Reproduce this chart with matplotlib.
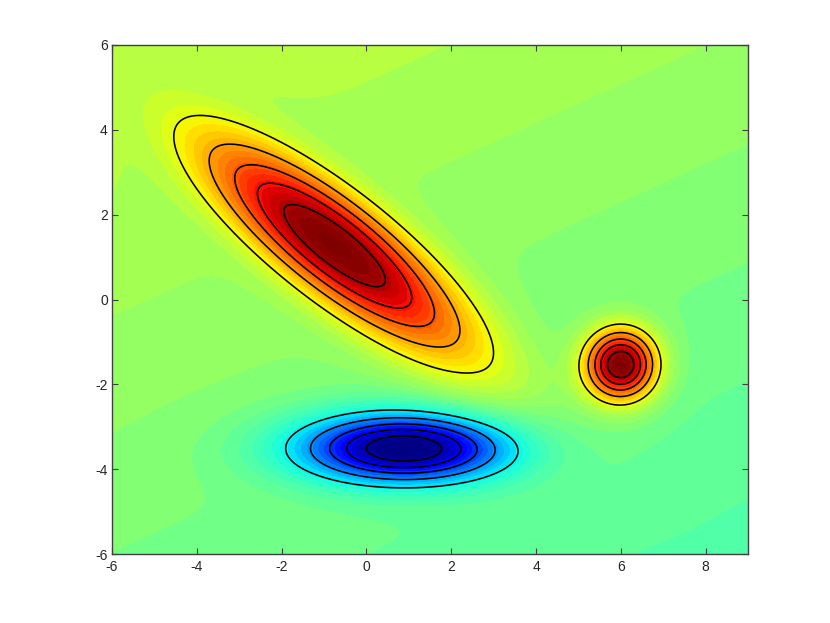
import numpy as np
import matplotlib
matplotlib.use('Agg')
import matplotlib.pyplot as plt

plt.rcParams['font.family'] = ['Liberation Sans', 'DejaVu Sans']
plt.rcParams['axes.unicode_minus'] = False

# surface: tilted plane plus three gaussian bumps
plane = [0.535, -0.0036, 0.0079]
centers_x = [-0.75, 0.9, 6.0]
centers_y = [1.27, -3.51, -1.53]
heights = [0.5, -0.5, 0.5]
var_x = [5.5, 3.1, 0.353]
var_y = [3.6, 0.34, 0.353]
cov_xy = [-3.72, 0.0, 0.0]

line_levels = [0.061, 0.13, 0.198, 0.274, 0.36, 0.64, 0.726, 0.802, 0.87, 0.939]
x_ticks = [-6, -4, -2, 0, 2, 4, 6, 8]
y_ticks = [-6, -4, -2, 0, 2, 4, 6]

# surface value -> position on the jet map, ends pushed a bit darker
color_z = [0, 0.06, 0.13, 0.36, 0.5, 0.6, 0.64, 0.87, 0.94, 1]
color_pos = [0, 0.02, 0.10, 0.365, 0.488, 0.585, 0.635, 0.89, 0.96, 1]

x = np.linspace(-6, 9, 601)
y = np.linspace(-6, 6, 481)
X, Y = np.meshgrid(x, y)

P = plane[0] + plane[1] * X + plane[2] * Y
W = np.zeros_like(X)
B = np.zeros_like(X)
for i in range(3):
    dx = X - centers_x[i]
    dy = Y - centers_y[i]
    det = var_x[i] * var_y[i] - cov_xy[i] ** 2
    q = (var_y[i] * dx ** 2 - 2 * cov_xy[i] * dx * dy + var_x[i] * dy ** 2) / det
    g = np.exp(-0.5 * q)
    W += g
    B += heights[i] * g
# plane fades out under the bumps so the rings stay concentric
Z = 0.5 + (P - 0.5) * np.clip(1 - W, 0, 1) ** 9 + B

fill_levels = np.linspace(-0.0184, 1.0156, 48)
mids = (fill_levels[:-1] + fill_levels[1:]) / 2
fill_colors = plt.get_cmap('jet')(np.interp(mids, color_z, color_pos))

fig = plt.figure(figsize=(8.3, 6.23), dpi=100)
ax = fig.add_axes([112 / 830, 1 - 554 / 623, 636 / 830, 509 / 623])

ax.contourf(X, Y, Z, levels=fill_levels, colors=fill_colors)
ax.contour(X, Y, Z, levels=line_levels, colors='k', linewidths=1.15, linestyles='solid')

ax.set_xlim(-6, 9)
ax.set_ylim(-6, 6)
ax.set_xticks(x_ticks)
ax.set_yticks(y_ticks)
ax.tick_params(direction='in', top=True, right=True, length=4.5, width=0.8,
               color='#404040', labelcolor='#262626', labelsize=10)
ax.tick_params(axis='x', pad=4.5)
ax.tick_params(axis='y', pad=3)
for s in ax.spines.values():
    s.set_linewidth(1.0)
    s.set_color('#404040')

fig.savefig('out.png', dpi=100)
